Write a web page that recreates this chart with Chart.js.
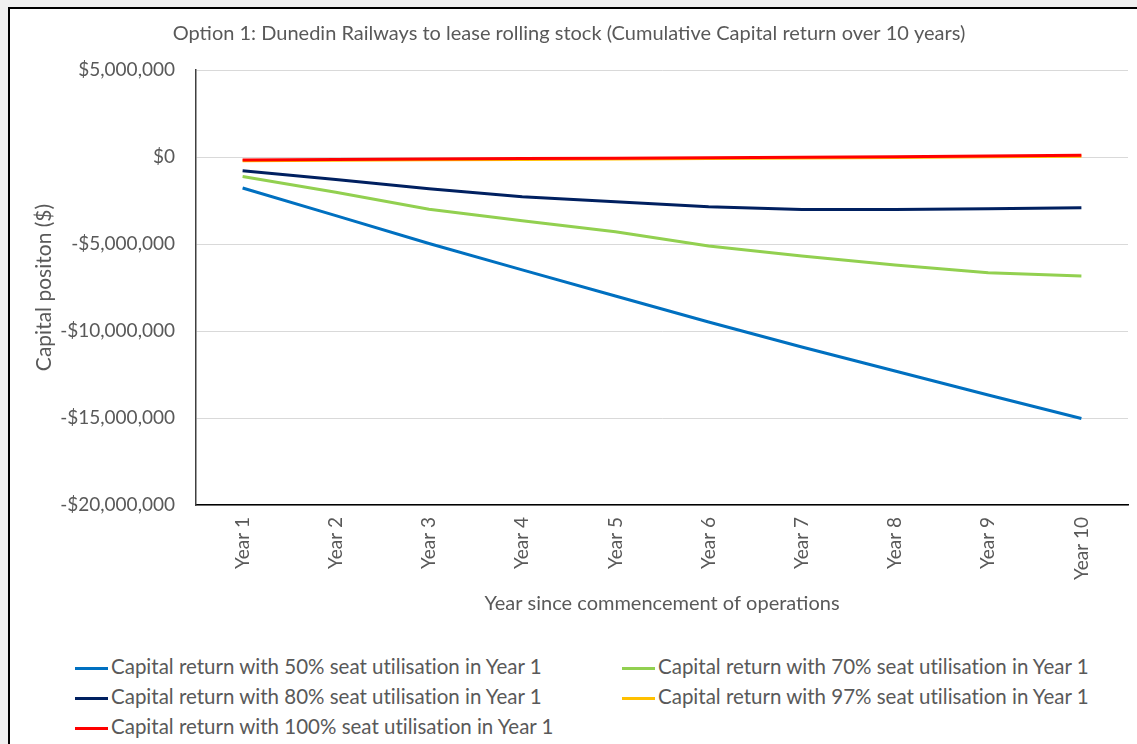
<!DOCTYPE html>
<html>
<head>
<meta charset="utf-8">
<script src="https://cdn.jsdelivr.net/npm/chart.js@4.4.1/dist/chart.umd.min.js"></script>
<style>
  body { margin: 0; background: #f0f0f0; width: 1137px; height: 744px; overflow: hidden; font-family: Lato, sans-serif; }
  #frame { position: absolute; left: 8px; top: 7px; width: 1150px; height: 760px; border: 2px solid #000; background: #fff; }
  #wrap { position: absolute; left: 0; top: 0; width: 1127px; height: 615px; }
  #legend { position: absolute; left: 65px; top: 642px; display: grid; grid-template-columns: 547px auto; color: #595959; font-size: 20.5px; font-variant-ligatures: none; }
  #legend div { height: 30px; line-height: 30px; white-space: nowrap; }
  #legend span { display: inline-block; width: 33px; height: 3px; margin-right: 3px; vertical-align: middle; }
</style>
</head>
<body>
<div id="frame">
  <div id="wrap"><canvas id="chart"></canvas></div>
  <div id="legend"></div>
</div>
<script>
const years = ['Year 1', 'Year 2', 'Year 3', 'Year 4', 'Year 5', 'Year 6', 'Year 7', 'Year 8', 'Year 9', 'Year 10'];

const seat50 = [-1780000, -3370000, -4970000, -6490000, -7990000, -9480000, -10920000, -12300000, -13680000, -15030000];
const seat70 = [-1120000, -2030000, -3000000, -3660000, -4290000, -5120000, -5690000, -6210000, -6650000, -6840000];
const seat80 = [-790000, -1290000, -1820000, -2280000, -2570000, -2860000, -3020000, -3020000, -2970000, -2920000];
const seat97 = [-220000, -190000, -160000, -140000, -120000, -90000, -60000, -30000, 10000, 50000];
const seat100 = [-170000, -140000, -110000, -90000, -70000, -40000, -10000, 20000, 60000, 100000];

const yTicks = [5000000, 0, -5000000, -10000000, -15000000, -20000000];

const grey = '#595959';
const fam = 'Lato';

function money(v) {
  const s = '$' + Math.abs(v).toLocaleString('en-US');
  return v < 0 ? '-' + s : s;
}

// legend in html so the two columns line up like the original
const htmlLegend = {
  id: 'htmlLegend',
  afterUpdate(chart) {
    const box = document.getElementById('legend');
    box.innerHTML = '';
    chart.data.datasets.forEach(ds => {
      const item = document.createElement('div');
      const sw = document.createElement('span');
      sw.style.background = ds.borderColor;
      item.appendChild(sw);
      item.appendChild(document.createTextNode(ds.label));
      box.appendChild(item);
    });
  }
};

const line = (label, data, color, order) => ({
  label: label,
  data: data,
  borderColor: color,
  backgroundColor: color,
  borderWidth: 3,
  pointRadius: 0,
  tension: 0,
  order: order
});

new Chart(document.getElementById('chart'), {
  type: 'line',
  data: {
    labels: years,
    datasets: [
      line('Capital return with 50% seat utilisation in Year 1', seat50, '#0070C0', 5),
      line('Capital return with 70% seat utilisation in Year 1', seat70, '#92D050', 4),
      line('Capital return with 80% seat utilisation in Year 1', seat80, '#002060', 3),
      line('Capital return with 97% seat utilisation in Year 1', seat97, '#FFC000', 2),
      line('Capital return with 100% seat utilisation in Year 1', seat100, '#FF0000', 1)
    ]
  },
  options: {
    responsive: true,
    maintainAspectRatio: false,
    animation: false,
    layout: { padding: { left: 0, right: 9, top: 0, bottom: 0 } },
    plugins: {
      legend: { display: false },
      tooltip: { enabled: false },
      title: {
        display: true,
        text: 'Option 1: Dunedin Railways to lease rolling stock (Cumulative Capital return over 10 years)',
        color: grey,
        font: { family: fam, size: 20, weight: 'normal' },
        padding: { top: 13, bottom: 24 }
      }
    },
    scales: {
      x: {
        offset: true,
        grid: { display: false, drawTicks: false },
        border: { display: true, color: '#000', width: 1.5 },
        ticks: {
          color: grey,
          font: { family: fam, size: 19 },
          minRotation: 90,
          maxRotation: 90,
          padding: 12
        },
        title: {
          display: true,
          text: 'Year since commencement of operations',
          color: grey,
          font: { family: fam, size: 20 },
          padding: { top: 0, bottom: 8 }
        },
        afterFit(scale) { scale.height = 119; }
      },
      y: {
        min: -20000000,
        max: 5000000,
        grid: { color: '#d9d9d9', lineWidth: 1, drawTicks: false },
        border: { display: true, color: '#404040', width: 1.5 },
        afterBuildTicks(scale) { scale.ticks = yTicks.map(v => ({ value: v })); },
        ticks: {
          color: grey,
          font: { family: fam, size: 19 },
          padding: 21,
          callback: v => money(v)
        },
        title: {
          display: true,
          text: 'Capital positon ($)',
          color: grey,
          font: { family: fam, size: 21 },
          padding: { top: 22, bottom: 0 }
        },
        afterFit(scale) { scale.width = 186; }
      }
    }
  },
  plugins: [htmlLegend]
});
</script>
</body>
</html>
